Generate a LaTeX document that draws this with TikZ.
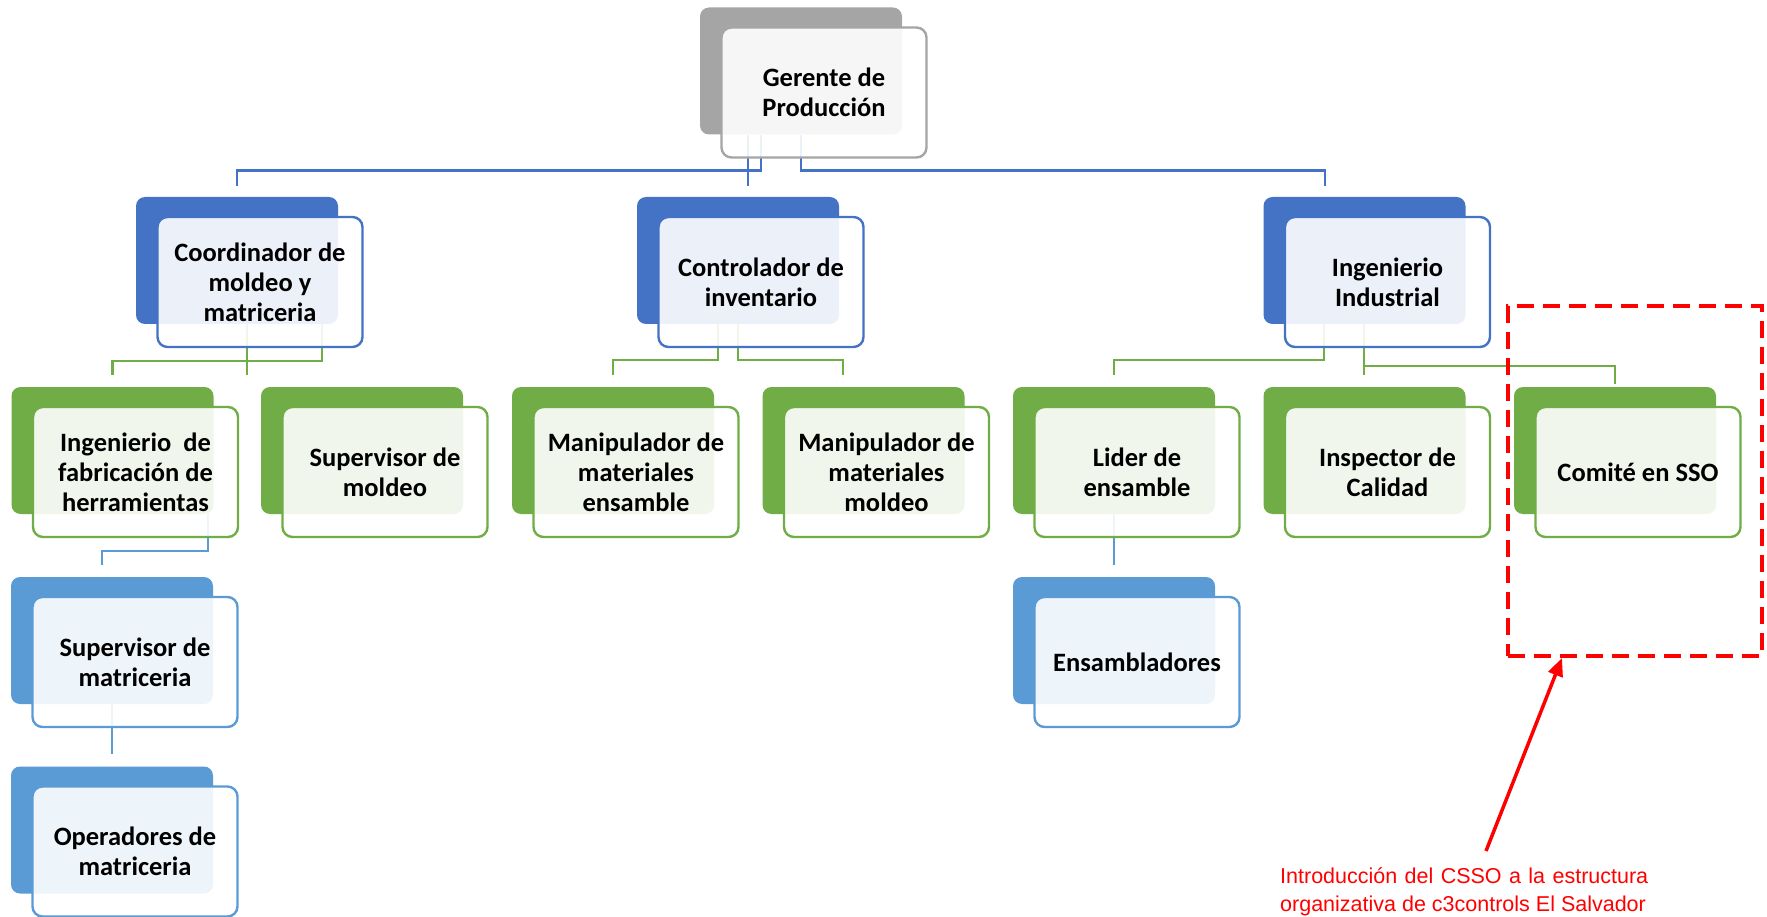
\documentclass[tikz,border=0pt]{standalone}
\usepackage{fontspec}
\setmainfont{Carlito}
\newfontfamily\notefont{Liberation Sans}
\usetikzlibrary{arrows.meta,calc}
\definecolor{grayAcc}{HTML}{A5A5A5}
\definecolor{blueAcc}{HTML}{4472C4}
\definecolor{greenAcc}{HTML}{70AD47}
\definecolor{skyAcc}{HTML}{5B9BD5}
\definecolor{noteRed}{HTML}{FF0000}

\begin{document}
\begin{tikzpicture}[x=1pt,y=-1pt,
  back/.style={rounded corners=9pt, fill=#1, minimum width=202pt,
    minimum height=127pt, inner sep=0pt},
  front/.style={rounded corners=10pt, draw=#1, line width=2.4pt, fill=white,
    fill opacity=0.9, text opacity=1, minimum width=205pt, minimum height=130pt,
    inner sep=0pt, align=center, font=\bfseries\fontsize{26.5}{30}\selectfont},
  link/.style={draw=#1, line width=2.6pt},
]
\useasboundingbox (0,0) rectangle (1767,917);

% ---- background cards ----
\node[back=grayAcc]  (gerB)  at (801,71) {};
\node[back=blueAcc]  (cooB)  at (237,260.5) {};
\node[back=blueAcc]  (conB)  at (738,260.5) {};
\node[back=blueAcc]  (indB)  at (1364.5,260.5) {};
\node[back=greenAcc] (ifabB) at (112.5,450.5) {};
\node[back=greenAcc] (smolB) at (362,450.5) {};
\node[back=greenAcc] (mensB) at (613,450.5) {};
\node[back=greenAcc] (mmolB) at (863.5,450.5) {};
\node[back=greenAcc] (lidB)  at (1114,450.5) {};
\node[back=greenAcc] (inspB) at (1364.5,450.5) {};
\node[back=greenAcc] (comB)  at (1615,450.5) {};
\node[back=skyAcc]   (smatB) at (112,640.5) {};
\node[back=skyAcc]   (ensB)  at (1114,640.5) {};
\node[back=skyAcc]   (operB) at (112,830) {};

% ---- connectors ----
\draw[link=blueAcc] ([xshift=-40pt]gerB.south) |- ($(cooB.north)+(0,-26)$) -- ($(cooB.north)+(0,-11)$);
\draw[link=blueAcc, shorten >=11pt] ([xshift=-53pt]gerB.south) -- ([xshift=10pt]conB.north);
\draw[link=blueAcc] (gerB.south) |- ($(indB.north)+(-39.5,-26)$) -- ($(indB.north)+(-39.5,-11)$);

\draw[link=greenAcc] ([xshift=85pt]cooB.south) |- ($(ifabB.north)+(0,-26)$) -- ($(ifabB.north)+(0,-12)$);
\draw[link=greenAcc, shorten >=12pt] ([xshift=10pt]cooB.south) -- ([xshift=-115pt]smolB.north);
\draw[link=greenAcc] ([xshift=-20pt]conB.south) |- ($(mensB.north)+(0,-27)$) -- ($(mensB.north)+(0,-12)$);
\draw[link=greenAcc] (conB.south) |- ($(mmolB.north)+(-20.5,-27)$) -- ($(mmolB.north)+(-20.5,-12)$);
\draw[link=greenAcc] ([xshift=-40.5pt]indB.south) |- ($(lidB.north)+(0,-27)$) -- ($(lidB.north)+(0,-12)$);
\draw[link=greenAcc, shorten >=12pt] ([xshift=-0.5pt]indB.south) -- ([xshift=-0.5pt]inspB.north);
\draw[link=greenAcc] ([xshift=-0.5pt]indB.south) |- ($(comB.north)+(0,-21)$) -- ($(comB.north)+(0,-3)$);

\draw[link=skyAcc] ([xshift=95.5pt]ifabB.south) |- ($(smatB.north)+(-10,-26)$) -- ($(smatB.north)+(-10,-12)$);
\draw[link=skyAcc, shorten >=12pt] (lidB.south) -- (ensB.north);
\draw[link=skyAcc, shorten >=12pt] (smatB.south) -- (operB.north);

% ---- text cards ----
\node[front=grayAcc]  (ger)  at ($(gerB)+(23,21.5)$)  {Gerente de\\Producción};
\node[front=blueAcc]  (coo)  at ($(cooB)+(23,21.5)$)  {Coordinador de\\moldeo y\\matriceria};
\node[front=blueAcc]  (con)  at ($(conB)+(23,21.5)$)  {Controlador de\\inventario};
\node[front=blueAcc]  (ind)  at ($(indB)+(23,21.5)$)  {Ingenierio\\Industrial};
\node[front=greenAcc] (ifab) at ($(ifabB)+(23,21.5)$) {Ingenierio\ \ de\\fabricación de\\herramientas};
\node[front=greenAcc] (smol) at ($(smolB)+(23,21.5)$) {Supervisor de\\moldeo};
\node[front=greenAcc] (mens) at ($(mensB)+(23,21.5)$) {Manipulador de\\materiales\\ensamble};
\node[front=greenAcc] (mmol) at ($(mmolB)+(23,21.5)$) {Manipulador de\\materiales\\moldeo};
\node[front=greenAcc] (lid)  at ($(lidB)+(23,21.5)$)  {Lider de\\ensamble};
\node[front=greenAcc] (insp) at ($(inspB)+(23,21.5)$) {Inspector de\\Calidad};
\node[front=greenAcc] (com)  at ($(comB)+(23,21.5)$)  {Comité en SSO};
\node[front=skyAcc]   (smat) at ($(smatB)+(23,21.5)$) {Supervisor de\\matriceria};
\node[front=skyAcc]   (ens)  at ($(ensB)+(23,21.5)$)  {Ensambladores};
\node[front=skyAcc]   (oper) at ($(operB)+(23,21.5)$) {Operadores de\\matriceria};

% ---- highlighted committee and note ----
\node[draw=noteRed, line width=4pt, dash pattern=on 17pt off 9pt,
  minimum width=254pt, minimum height=350pt, inner sep=0pt] (focus) at (1635,481) {};
\node[text=noteRed, font=\notefont\fontsize{21.5}{28}\selectfont, align=left,
  anchor=north west, inner sep=0pt] (note) at (1280,867)
  {\makebox[368pt][s]{Introducción del CSSO a la estructura}\\organizativa de c3controls El Salvador};
\draw[noteRed, line width=3.5pt, -{Triangle[length=18pt,width=15pt]}]
  ($(note.north west)+(206,-16)$) -- ([xshift=-73pt]focus.south);
\end{tikzpicture}
\end{document}
